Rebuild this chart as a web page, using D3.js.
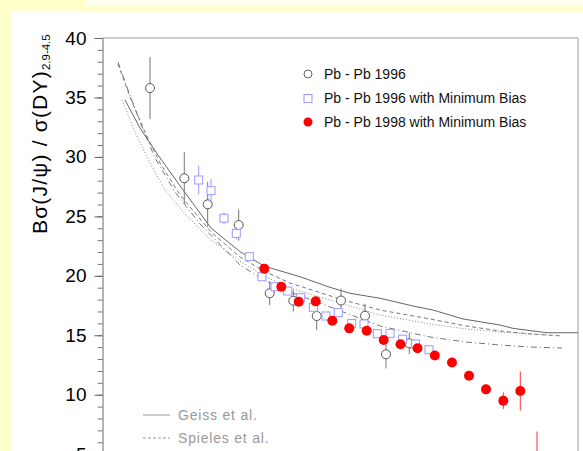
<!DOCTYPE html>
<html>
<head>
<meta charset="utf-8">
<script src="https://cdn.jsdelivr.net/npm/d3@7"></script>
<style>
  html, body { margin: 0; padding: 0; background: #ffffcc; }
  svg { display: block; }
</style>
</head>
<body>
<svg id="chart" width="583" height="451"></svg>
<script>
// J/psi over Drell-Yan ratio versus transverse energy (GeV)
const yTickValues = [5, 10, 15, 20, 25, 30, 35, 40];

// Pb-Pb 1996
const et96 = [13.99, 24.08, 30.97, 40.10, 49.23, 56.18, 63.07, 70.22, 77.29, 83.47, 90.33];
const ratio96 = [35.79, 28.20, 26.01, 24.27, 18.53, 17.91, 16.62, 17.92, 16.64, 13.40, 14.32];
const err96 = [2.6, 2.2, 1.9, 1.3, 1.0, 0.9, 1.2, 1.0, 1.0, 1.2, 0.9];

// Pb-Pb 1996 with minimum bias
const et96mb = [28.32, 31.95, 35.77, 39.39, 43.22, 46.96, 50.79, 54.53, 58.36, 62.07,
                65.80, 69.43, 73.37, 76.99, 80.91, 84.65, 88.33, 92.16, 96.13];
const ratio96mb = [28.06, 27.16, 24.84, 23.57, 21.61, 19.92, 19.08, 18.72, 18.16, 17.35,
                   16.62, 16.90, 16.00, 15.95, 15.13, 15.16, 14.67, 14.26, 13.78];
const err96mb = [1.2, 1.0, 0.5, 0.5, 0.3, 0.3, 0.3, 0.3, 0.3, 0.3,
                 0.3, 0.3, 0.3, 0.3, 0.3, 0.3, 0.3, 0.3, 0.3];

// Pb-Pb 1998 with minimum bias
const et98mb = [47.64, 52.64, 57.77, 62.77, 67.66, 72.66, 77.79, 82.79, 87.74, 92.75,
                97.84, 102.90, 107.91, 112.92, 118.01, 123.01, 127.93];
const ratio98mb = [20.60, 19.08, 17.82, 17.85, 16.22, 15.58, 15.38, 14.60, 14.24, 13.90,
                   13.30, 12.71, 11.60, 10.45, 9.50, 10.31, 4.30];
const err98mb = [0.3, 0.3, 0.3, 0.3, 0.3, 0.3, 0.3, 0.3, 0.3, 0.3,
                 0.3, 0.3, 0.3, 0.3, 0.7, 1.65, 2.6];

// Model curves
const etGeiss = [6.62, 11.04, 16.34, 23.70, 31.95, 40.49, 47.55, 58.15, 66.98, 72.87, 81.70, 91.42, 97.31, 106.14, 117.04, 120.86, 130.88, 140.0];
const ratioGeiss = [34.79, 32.43, 30.16, 27.22, 24.02, 22.03, 20.82, 19.92, 19.03, 18.53, 18.11, 17.46, 17.12, 16.37, 15.86, 15.58, 15.21, 15.21];

const etSpieles = [4.56, 8.10, 12.51, 16.93, 22.82, 31.95, 40.49, 47.55, 55.21, 69.93, 81.70, 96.42, 107.03, 117.04, 125.87, 135.29];
const ratioSpieles = [37.81, 35.04, 32.09, 29.49, 26.80, 23.68, 21.58, 20.40, 19.39, 18.05, 17.12, 16.37, 15.78, 15.36, 15.11, 14.94];

const etModelC = [5.74, 9.57, 13.99, 18.40, 24.29, 31.95, 40.49, 47.55, 55.21, 69.93, 81.70, 96.42, 107.03, 117.04, 125.87, 131.17];
const ratioModelC = [34.79, 32.09, 29.49, 27.22, 25.20, 23.01, 21.24, 19.98, 18.97, 17.71, 16.70, 15.95, 15.53, 15.27, 15.11, 15.02];

const etModelD = [4.56, 7.51, 11.04, 15.46, 21.35, 28.71, 40.49, 47.55, 55.21, 66.98, 81.70, 96.42, 107.03, 117.04, 125.87, 135.29];
const ratioModelD = [37.98, 35.63, 32.94, 29.91, 27.05, 24.36, 20.91, 19.65, 18.64, 17.38, 15.78, 14.85, 14.43, 14.18, 14.01, 13.93];

const legendEntries = ["Pb - Pb 1996", "Pb - Pb 1996 with Minimum Bias", "Pb - Pb 1998 with Minimum Bias"];
const modelNames = ["Geiss et al.", "Spieles et al."];

const FONT = "'Liberation Sans', Arial, Helvetica, sans-serif";
const svg = d3.select("#chart");

// page background pieces
svg.append("rect").attr("x", 0).attr("y", 0).attr("width", 583).attr("height", 451).attr("fill", "#ffffcc");
svg.append("rect").attr("x", 85).attr("y", 0).attr("width", 498).attr("height", 5).attr("fill", "#fffff4");
svg.append("rect").attr("x", 12).attr("y", 11).attr("width", 571).attr("height", 440).attr("fill", "#ffffff");

const plotLeft = 102.5, plotRight = 578, plotTop = 38, plotBottom = 513.6;
const x = d3.scaleLinear().domain([0, 140]).range([plotLeft, plotRight]);
const y = d3.scaleLinear().domain([0, 40]).range([plotBottom, plotTop]);

// frame (top and right)
svg.append("path")
  .attr("d", `M${plotLeft},${plotTop}H${plotRight}V${plotBottom}`)
  .attr("fill", "none").attr("stroke", "#9a9a9a").attr("stroke-width", 1);

// minor ticks
const minor = svg.append("g").attr("transform", `translate(${plotLeft},0)`)
  .call(d3.axisLeft(y).tickValues(d3.range(1, 41)).tickSize(5).tickSizeOuter(0).tickFormat(""));
minor.select(".domain").remove();
minor.selectAll("line").attr("stroke", "#777");

// major ticks + labels
const yAxis = svg.append("g").attr("transform", `translate(${plotLeft},0)`)
  .call(d3.axisLeft(y).tickValues(yTickValues).tickSize(8).tickSizeOuter(0).tickPadding(8));
yAxis.select(".domain").attr("stroke", "#666");
yAxis.selectAll("line").attr("stroke", "#666");
yAxis.selectAll("text").attr("font-family", FONT).attr("font-size", 19).attr("fill", "#000");

// y axis title
const title = svg.append("text")
  .attr("transform", "translate(47,234) rotate(-90)")
  .attr("text-anchor", "start")
  .attr("font-family", FONT).attr("font-size", 21).attr("fill", "#000");
title.append("tspan").attr("letter-spacing", 1.2).text("Bσ(J/ψ) / σ(DY)");
title.append("tspan").attr("dy", 3).attr("font-size", 11.5).attr("letter-spacing", 0).text("2.9-4.5");

// model curves
const line = d3.line().x(d => x(d[0])).y(d => y(d[1]));
const curves = [
  { et: etGeiss, r: ratioGeiss, dash: null, color: "#666" },
  { et: etSpieles, r: ratioSpieles, dash: "4,3", color: "#777" },
  { et: etModelC, r: ratioModelC, dash: "1,2", color: "#888" },
  { et: etModelD, r: ratioModelD, dash: "6,3,1,3", color: "#777" }
];
const curveG = svg.append("g");
curves.forEach(c => {
  curveG.append("path")
    .datum(d3.zip(c.et, c.r))
    .attr("d", line)
    .attr("fill", "none")
    .attr("stroke", c.color)
    .attr("stroke-width", 1)
    .attr("stroke-dasharray", c.dash);
});

// error bars helper
function errorBars(g, et, r, e, color) {
  g.selectAll(null).data(d3.range(et.length)).join("line")
    .attr("x1", i => x(et[i])).attr("x2", i => x(et[i]))
    .attr("y1", i => y(r[i] - e[i])).attr("y2", i => y(r[i] + e[i]))
    .attr("stroke", color).attr("stroke-width", 1);
}

// Pb-Pb 1996
const g96 = svg.append("g");
errorBars(g96, et96, ratio96, err96, "#777");
g96.selectAll("circle").data(d3.range(et96.length)).join("circle")
  .attr("cx", i => x(et96[i])).attr("cy", i => y(ratio96[i])).attr("r", 4.5)
  .attr("fill", "#fff").attr("stroke", "#555").attr("stroke-width", 1);

// Pb-Pb 1996 minimum bias
const g96mb = svg.append("g");
errorBars(g96mb, et96mb, ratio96mb, err96mb, "#9999ff");
g96mb.selectAll("rect").data(d3.range(et96mb.length)).join("rect")
  .attr("x", i => x(et96mb[i]) - 4).attr("y", i => y(ratio96mb[i]) - 4)
  .attr("width", 8).attr("height", 8)
  .attr("fill", "#fff").attr("stroke", "#9999ff").attr("stroke-width", 1);

// Pb-Pb 1998 minimum bias
const g98 = svg.append("g");
errorBars(g98, et98mb, ratio98mb, err98mb, "#ff3333");
g98.selectAll("circle").data(d3.range(et98mb.length)).join("circle")
  .attr("cx", i => x(et98mb[i])).attr("cy", i => y(ratio98mb[i])).attr("r", 5)
  .attr("fill", "#ff0000");

// data legend
const legend = svg.append("g");
const ly = [74, 98.5, 122];
legend.append("circle").attr("cx", 308).attr("cy", ly[0]).attr("r", 4)
  .attr("fill", "#fff").attr("stroke", "#666");
legend.append("rect").attr("x", 304).attr("y", ly[1] - 4).attr("width", 8).attr("height", 8)
  .attr("fill", "#fff").attr("stroke", "#9999ff");
legend.append("circle").attr("cx", 308).attr("cy", ly[2]).attr("r", 4.5).attr("fill", "#ff0000");
legend.selectAll("text").data(legendEntries).join("text")
  .attr("x", 324).attr("y", (d, i) => ly[i]).attr("dy", "0.35em")
  .attr("font-family", FONT).attr("font-size", 14).attr("fill", "#111")
  .text(d => d);

// model legend
const mLegend = svg.append("g");
const my = [415, 438];
mLegend.append("line").attr("x1", 143).attr("x2", 170).attr("y1", my[0]).attr("y2", my[0])
  .attr("stroke", "#999").attr("stroke-width", 1);
mLegend.append("line").attr("x1", 143).attr("x2", 170).attr("y1", my[1]).attr("y2", my[1])
  .attr("stroke", "#999").attr("stroke-width", 1).attr("stroke-dasharray", "3,2");
mLegend.selectAll("text").data(modelNames).join("text")
  .attr("x", 178).attr("y", (d, i) => my[i]).attr("dy", "0.35em")
  .attr("font-family", FONT).attr("font-size", 14).attr("letter-spacing", 0.8).attr("fill", "#999")
  .text(d => d);
</script>
</body>
</html>
